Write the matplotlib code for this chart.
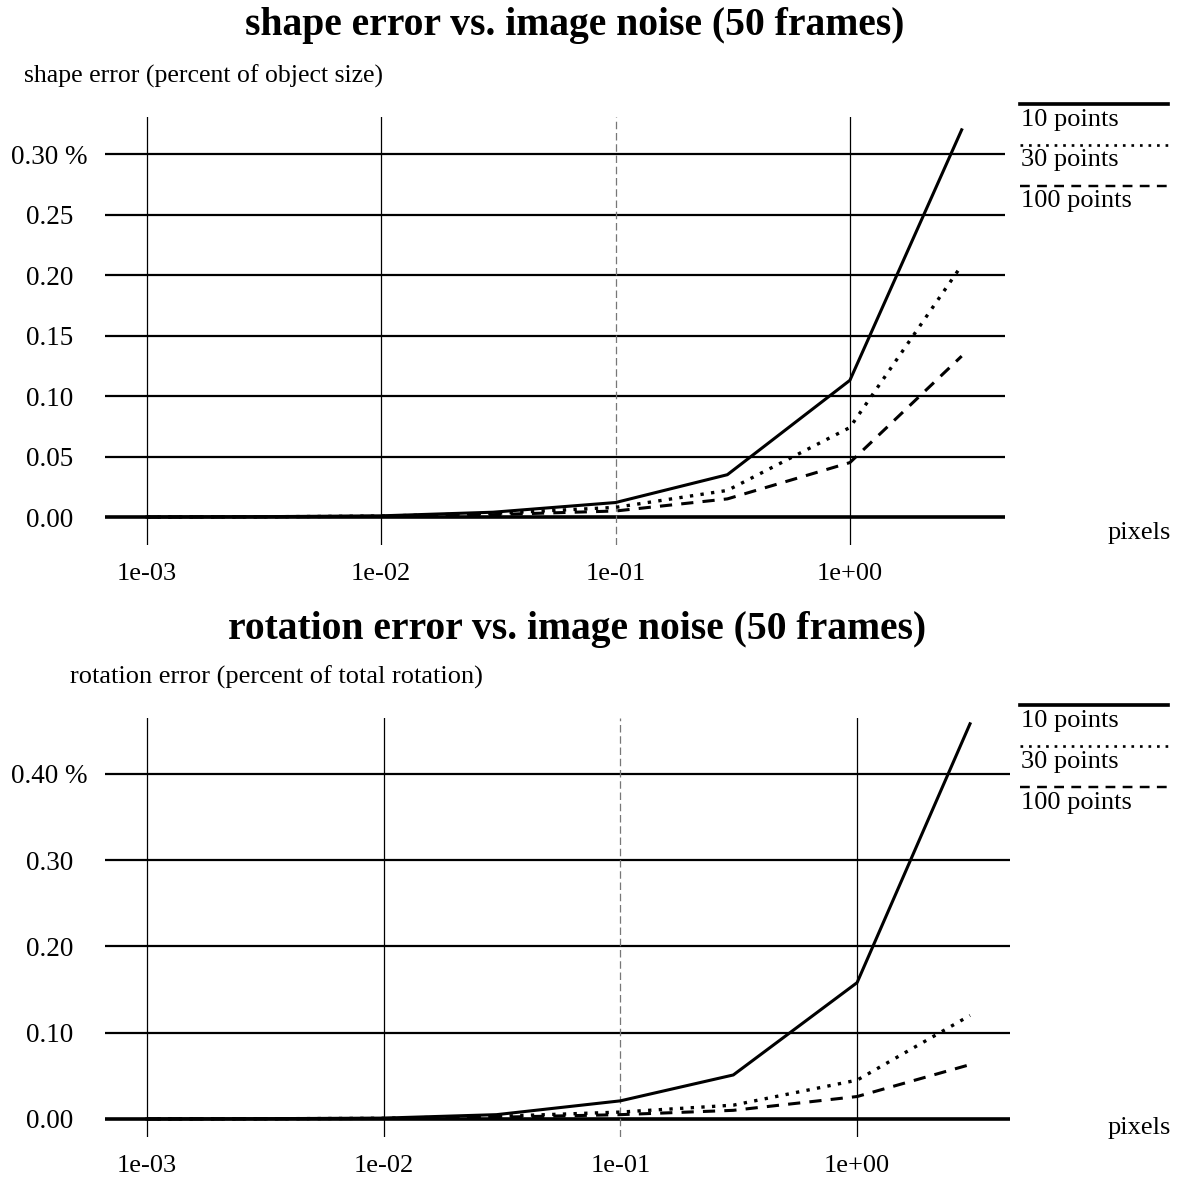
import matplotlib
matplotlib.use("Agg")
import matplotlib.pyplot as plt
from matplotlib.lines import Line2D


noise = [0.001, 0.003, 0.01, 0.03, 0.1, 0.3, 1.0, 3.0]

shape_10 = [0.0, 0.0003, 0.001, 0.004, 0.012, 0.035, 0.113, 0.320]
shape_30 = [0.0, 0.0002, 0.0008, 0.003, 0.008, 0.022, 0.074, 0.208]
shape_100 = [0.0, 0.0002, 0.0006, 0.002, 0.005, 0.015, 0.045, 0.133]

rot_10 = [0.0, 0.0003, 0.001, 0.005, 0.021, 0.051, 0.158, 0.458]
rot_30 = [0.0, 0.0002, 0.0008, 0.003, 0.008, 0.016, 0.045, 0.120]
rot_100 = [0.0, 0.0002, 0.0006, 0.002, 0.005, 0.010, 0.026, 0.063]

series_labels = ["10 points", "30 points", "100 points"]
x_ticks = [1e-3, 1e-2, 1e-1, 1e0]
x_tick_labels = ["1e-03", "1e-02", "1e-01", "1e+00"]

shape_ticks = [0.0, 0.05, 0.10, 0.15, 0.20, 0.25, 0.30]
shape_tick_labels = ["0.00", "0.05", "0.10", "0.15", "0.20", "0.25", "0.30 %"]
rot_ticks = [0.0, 0.10, 0.20, 0.30, 0.40]
rot_tick_labels = ["0.00", "0.10", "0.20", "0.30", "0.40 %"]

W, H = 1188, 1184
plt.rcParams["font.family"] = ["Liberation Serif", "DejaVu Serif"]

STYLES = [
    dict(linestyle="-", linewidth=2.2),
    dict(linestyle=(0, (1.0, 2.2)), linewidth=2.4),
    dict(linestyle=(0, (4.0, 3.0)), linewidth=2.2),
]


def fx(px):
    return px / W


def fy(py):
    return 1 - py / H


def draw_panel(fig, box, xlim, ylim, series, ticks, tick_labels):
    left, top, right, bottom = box
    ax = fig.add_axes([fx(left), fy(bottom), fx(right - left), (bottom - top) / H])
    ax.set_xscale("log")
    ax.set_xlim(*xlim)
    ax.set_ylim(*ylim)
    for s in ax.spines.values():
        s.set_visible(False)

    for t in ticks:
        ax.axhline(t, color="black", linewidth=2.6 if t == 0 else 1.6, zorder=1)
    for t in x_ticks:
        if t == 0.1:
            ax.axvline(t, color="#777777", linewidth=0.9,
                       linestyle=(0, (6, 3)), zorder=1)
        else:
            ax.axvline(t, color="black", linewidth=0.9, zorder=1)

    for vals, st in zip(series, STYLES):
        ax.plot(noise, vals, color="black", zorder=3, **st)

    ax.set_yticks(ticks)
    ax.set_yticklabels(tick_labels)
    ax.set_xticks(x_ticks)
    ax.set_xticklabels(x_tick_labels)
    ax.minorticks_off()
    ax.tick_params(axis="y", length=0, pad=40, labelsize=19.5)
    ax.tick_params(axis="x", length=0, pad=13, labelsize=19)
    for lab in ax.get_yticklabels():
        lab.set_horizontalalignment("center")
    return ax


def draw_legend(fig, line_ys, label_ys):
    for ly, ty, st, name in zip(line_ys, label_ys, STYLES, series_labels):
        kw = dict(st)
        kw["linewidth"] = kw["linewidth"] * (1.2 if kw["linestyle"] == "-" else 0.8)
        fig.add_artist(Line2D([fx(1020), fx(1168)], [fy(ly), fy(ly)],
                              color="black", **kw))
        fig.text(fx(1021), fy(ty), name, fontsize=19, ha="left", va="center")


fig = plt.figure(figsize=(W / 100, H / 100), dpi=100)

# top panel: shape error
fig.text(fx(575), fy(26), "shape error vs. image noise (50 frames)",
         fontsize=28.5, fontweight="bold", ha="center", va="center")
fig.text(fx(24), fy(76), "shape error (percent of object size)",
         fontsize=18.5, ha="left", va="center")
draw_panel(fig, (105, 117, 1005, 545), (10 ** -3.179, 10 ** 0.662),
           (-0.0231, 0.3306), [shape_10, shape_30, shape_100],
           shape_ticks, shape_tick_labels)
fig.text(fx(1139), fy(533), "pixels", fontsize=19, ha="center", va="center")
draw_legend(fig, [104, 145, 186], [120, 160, 201])

# bottom panel: rotation error
fig.text(fx(577), fy(630), "rotation error vs. image noise (50 frames)",
         fontsize=28.5, fontweight="bold", ha="center", va="center")
fig.text(fx(70), fy(677), "rotation error (percent of total rotation)",
         fontsize=19, ha="left", va="center")
draw_panel(fig, (105, 718, 1010, 1137), (10 ** -3.177, 10 ** 0.646),
           (-0.0209, 0.4647), [rot_10, rot_30, rot_100],
           rot_ticks, rot_tick_labels)
fig.text(fx(1139), fy(1128), "pixels", fontsize=19, ha="center", va="center")
draw_legend(fig, [705, 746, 787], [721, 762, 803])

fig.savefig("out.png", dpi=100)
plt.close(fig)
